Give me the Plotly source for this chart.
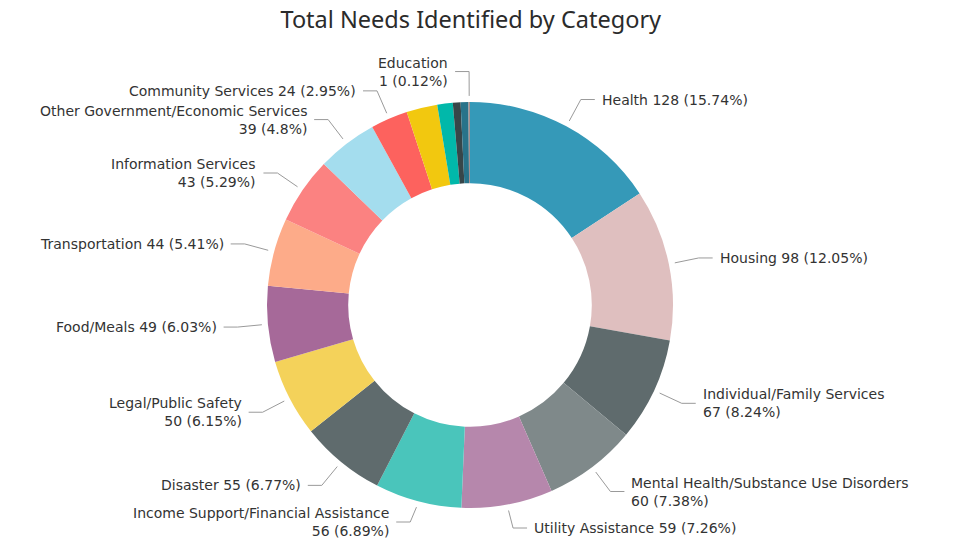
import math
import plotly.graph_objects as go

# Needs by category (sorted by count, clockwise from 12 o'clock)
categories = [
    "Health", "Housing", "Individual/Family Services",
    "Mental Health/Substance Use Disorders", "Utility Assistance",
    "Income Support/Financial Assistance", "Disaster", "Legal/Public Safety",
    "Food/Meals", "Transportation", "Information Services",
    "Other Government/Economic Services", "Community Services",
    "Employment", "Clothing/Household", "Child Care", "Volunteers/Donations",
    "Education",
]
counts = [128, 98, 67, 60, 59, 56, 55, 50, 49, 44, 43, 39, 24, 20, 10, 5, 5, 1]
colors = [
    "#3599B8", "#DFBFBF", "#5F6B6D", "#7F898A", "#B687AC", "#4AC5BB",
    "#5F6B6D", "#F4D25A", "#A66999", "#FDAB89", "#FB8281", "#A4DDEE",
    "#FD625E", "#F2C80F", "#01B8AA", "#374649", "#28738A", "#A78F8F",
]
# Categories whose data label is shown, and those split over two lines
labelled = set(categories[:13]) | {"Education"}
two_line = {
    "Individual/Family Services", "Mental Health/Substance Use Disorders",
    "Income Support/Financial Assistance", "Legal/Public Safety",
    "Information Services", "Other Government/Economic Services", "Education",
}

W, H = 953, 542
CX, CY, R = 470, 305, 203          # donut centre and outer radius (px)
HOLE = 0.6


def px(x, y):
    return x / W, 1 - y / H


fig = go.Figure(go.Pie(
    labels=categories,
    values=counts,
    marker=dict(colors=colors, line=dict(width=0)),
    hole=HOLE,
    sort=False,
    direction="clockwise",
    rotation=0,
    textinfo="none",
    showlegend=False,
    domain=dict(x=[(CX - R) / W, (CX + R) / W],
                y=[1 - (CY + R) / H, 1 - (CY - R) / H]),
))

total = sum(counts)
shapes, annotations = [], []
cum = 0
for name, v in zip(categories, counts):
    mid = (cum + v / 2) / total * 2 * math.pi
    cum += v
    if name not in labelled:
        continue
    s, c = math.sin(mid), math.cos(mid)
    x0, y0 = CX + 1.03 * R * s, CY - 1.03 * R * c
    x1, y1 = CX + 1.15 * R * s, CY - 1.15 * R * c
    lines = 2 if name in two_line else 1
    y1 = min(y1, H - 14 - 6 * (lines - 1))
    side = 1 if s >= 0 else -1
    x2 = x1 + side * 14
    pct = round(v / total * 100, 2)
    pct_txt = f"{pct:g}%"
    if lines == 2:
        text = f"{name}<br>{v} ({pct_txt})"
    else:
        text = f"{name} {v} ({pct_txt})"
    p0, p1, p2 = px(x0, y0), px(x1, y1), px(x2, y1)
    shapes.append(dict(
        type="path", xref="paper", yref="paper",
        path=f"M {p0[0]},{p0[1]} L {p1[0]},{p1[1]} L {p2[0]},{p2[1]}",
        line=dict(color="#9a9a9a", width=1),
    ))
    tx, ty = px(x2 + side * 5, y1)
    annotations.append(dict(
        x=tx, y=ty, xref="paper", yref="paper", text=text, showarrow=False,
        xanchor="left" if side > 0 else "right", yanchor="middle",
        align="left" if side > 0 else "right",
        font=dict(family="DejaVu Sans", size=14, color="#333333"),
    ))

fig.update_layout(
    width=W, height=H,
    margin=dict(l=0, r=0, t=0, b=0),
    paper_bgcolor="white",
    title=dict(text="Total Needs Identified by Category", x=0.494, xanchor="center",
               y=1 - 20 / H, yanchor="middle",
               font=dict(family="Noto Sans", size=23.5, color="#2b2b2b")),
    shapes=shapes,
    annotations=annotations,
)

fig.write_html("out.html")
